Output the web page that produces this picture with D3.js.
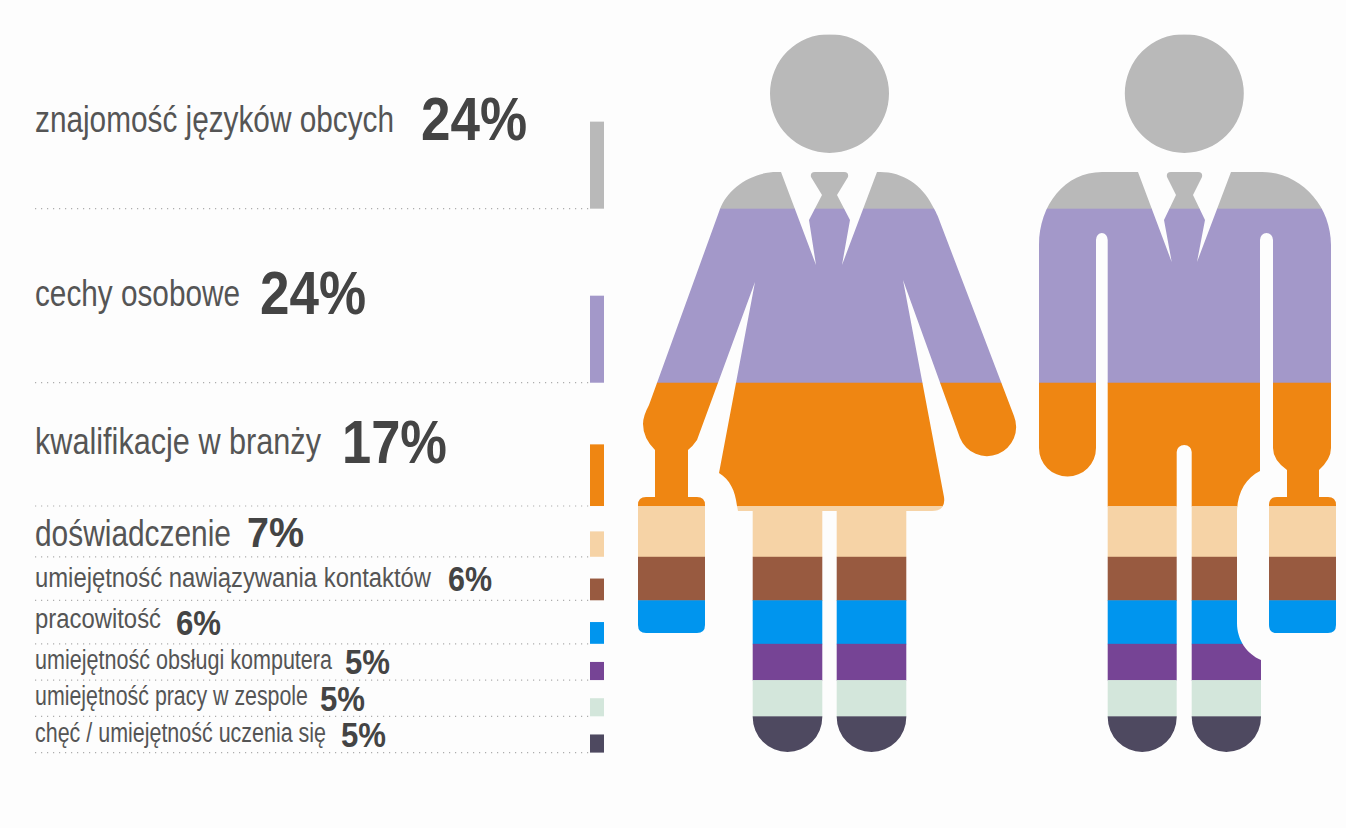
<!DOCTYPE html>
<html lang="pl">
<head>
    <meta charset="UTF-8">
    <title>Kompetencje</title>
    <script src="https://cdn.jsdelivr.net/npm/d3@7"></script>
    <style>
        html, body { margin: 0; padding: 0; background: #fdfdfd; }
        svg { display: block; }
        text { font-family: "Liberation Sans Narrow", "Liberation Sans", sans-serif; }
    </style>
</head>
<body>
<script type="text/javascript">
    // dane
    var categories = ['znajomość języków obcych', 'cechy osobowe', 'kwalifikacje w branży', 'doświadczenie',
        'umiejętność nawiązywania kontaktów', 'pracowitość', 'umiejętność obsługi komputera',
        'umiejętność pracy w zespole', 'chęć / umiejętność uczenia się'];
    var values = [24, 24, 17, 7, 6, 6, 5, 5, 5];
    var colors = ['#b9b9b9', '#a398c9', '#ef8612', '#f6d3a6', '#985a40', '#0095ee', '#764495', '#d3e6db', '#4e4960'];

    // uklad tekstu, wiersz po wierszu
    var labelBase = [132, 306, 454, 546, 587, 628, 669, 705, 742];
    var labelSize = [37, 37, 37, 37, 27, 27, 27, 27, 27];
    var labelWidth = [359, 205, 286, 196, 396, 126, 297, 273, 291];
    var valueX = [421, 260, 342, 247, 448, 176, 345, 320, 341];
    var valueBase = [140, 314, 463, 547, 591, 635, 674, 711, 747];
    var valueSize = [62, 62, 62, 42, 35, 35, 35, 35, 35];
    var valueWidth = [106, 106, 105, 57, 44, 45, 45, 45, 45];

    var width = 1346, height = 828;
    var svg = d3.select('body').append('svg').attr('width', width).attr('height', height);

    var total = d3.sum(values);
    var ends = Array.from(d3.cumsum(values));
    var yScale = d3.scaleLinear().domain([0, total]).range([34.6, 752.6]);
    var xLine = d3.scaleLinear().domain([0, 1]).range([35, 590]);

    // sylwetki
    var woman = 'M781,172 L816,265 L809,220 L822,195 L811,177 Q810,172 815,172 L844,172 Q849,172 848,177 L837,195 L850,220 L842,265 L877,172 L880,172 ' +
        'C903,172 922,185 932,205 C936,212 938,216 940,222 L1014,416 A29,29 0 0 1 960,438 L903,280 L944,497 Q946,511 932,511 L738,511 L737,506 ' +
        'C735,490 730,480 719,473 L755,282 L697,440 Q693,446 688,450 L688,497 L697,497 Q705,497 705,505 L705,625 Q705,633 697,633 L646,633 Q638,633 638,625 ' +
        'L638,505 Q638,497 646,497 L655,497 L655,450 Q643,438 643,424 Q643,416 649,405 L720,209 C727,190 750,172 777,172 Z';
    var womanLegs = 'M752.7,500 L822.3,500 L822.3,717 A34.8,35 0 0 1 752.7,717 Z M836.7,500 L906.3,500 L906.3,717 A34.8,35 0 0 1 836.7,717 Z';
    var man = 'M1138,172 L1171.7,262 L1164,220 L1176,195 L1167,177 Q1166,172 1171,172 L1198,172 Q1203,172 1202,177 L1193,195 L1205,220 L1197,262 L1231,172 L1262,172 ' +
        'C1300,172 1331,205 1331,245 L1331,448 Q1331,459 1319,470 L1319,497 L1328,497 Q1336,497 1336,505 L1336,625 Q1336,633 1328,633 L1277,633 Q1269,633 1269,625 ' +
        'L1269,505 Q1269,497 1277,497 L1287,497 L1287,470 Q1273,460 1273,448 L1273,240 A6.5,7 0 0 0 1260,240 L1260,471 C1246,478 1237,492 1237,513 L1237,623 ' +
        'C1237,640 1247,654 1261,660 L1261,717 A34.65,35 0 0 1 1191.7,717 L1191.7,452 A7.5,7 0 0 0 1176.7,452 L1176.7,717 A34.5,35 0 0 1 1107.7,717 L1107.7,240 ' +
        'A5.85,7 0 0 0 1096,240 L1096,448 A28.5,28.5 0 0 1 1039,448 L1039,245 C1039,205 1065,172 1102,172 Z';
    var heads = [[829.5, 93.4], [1184.3, 93.4]];

    var clip = svg.append('defs').append('clipPath').attr('id', 'people');
    clip.selectAll('path').data([woman, womanLegs, man]).enter().append('path').attr('d', function (d) { return d; });
    clip.selectAll('circle').data(heads).enter().append('circle')
        .attr('cx', function (d) { return d[0]; })
        .attr('cy', function (d) { return d[1]; })
        .attr('r', 59.5);

    // pasy w sylwetkach
    svg.append('g').attr('clip-path', 'url(#people)')
        .selectAll('rect').data(values).enter().append('rect')
        .attr('x', 630)
        .attr('width', 716)
        .attr('y', function (d, i) { return yScale(ends[i] - d); })
        .attr('height', function (d) { return yScale(d) - yScale(0) + 0.5; })
        .attr('fill', function (d, i) { return colors[i]; });

    // kropkowane linie
    svg.append('g').selectAll('line').data(ends).enter().append('line')
        .attr('x1', xLine(0))
        .attr('x2', xLine(1))
        .attr('y1', function (d) { return yScale(d); })
        .attr('y2', function (d) { return yScale(d); })
        .attr('stroke', '#adadad')
        .attr('stroke-width', 1.2)
        .attr('stroke-dasharray', '1.2 4.8');

    // slupki przy prawej krawedzi listy (polowa wysokosci pasa)
    svg.append('g').selectAll('rect').data(values).enter().append('rect')
        .attr('x', 590)
        .attr('width', 14)
        .attr('y', function (d, i) { return yScale(ends[i] - d / 2); })
        .attr('height', function (d) { return (yScale(d) - yScale(0)) / 2; })
        .attr('fill', function (d, i) { return colors[i]; });

    // opisy
    svg.append('g').selectAll('text').data(categories).enter().append('text')
        .attr('x', 35)
        .attr('y', function (d, i) { return labelBase[i]; })
        .attr('font-size', function (d, i) { return labelSize[i]; })
        .attr('textLength', function (d, i) { return labelWidth[i]; })
        .attr('lengthAdjust', 'spacingAndGlyphs')
        .attr('fill', '#555555')
        .text(function (d) { return d; });

    // wartosci
    svg.append('g').selectAll('text').data(values).enter().append('text')
        .attr('x', function (d, i) { return valueX[i]; })
        .attr('y', function (d, i) { return valueBase[i]; })
        .attr('font-size', function (d, i) { return valueSize[i]; })
        .attr('font-weight', 'bold')
        .attr('textLength', function (d, i) { return valueWidth[i]; })
        .attr('lengthAdjust', 'spacingAndGlyphs')
        .attr('fill', '#444444')
        .text(function (d) { return d + '%'; });
</script>
</body>
</html>
